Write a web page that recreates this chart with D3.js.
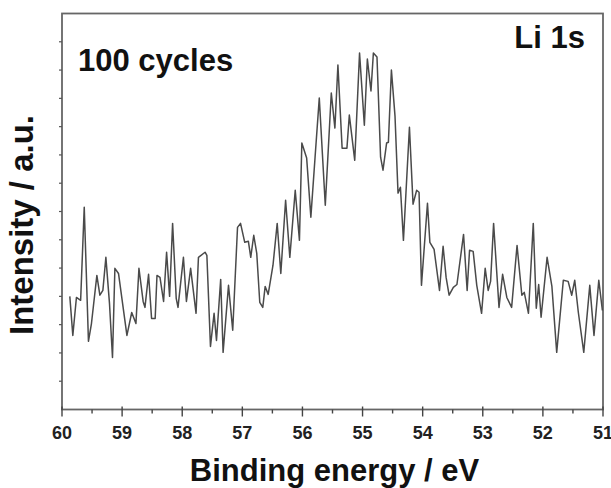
<!DOCTYPE html>
<html>
<head>
<meta charset="utf-8">
<script src="https://cdn.jsdelivr.net/npm/d3@7"></script>
<style>
    body { margin: 0; background: #fff; }
    svg { display: block; font-family: Arial, "Liberation Sans", sans-serif; }
</style>
</head>
<body>
<svg width="611" height="488"></svg>
<script>
// Li 1s spectrum, 100 cycles (binding energy in eV, intensity in a.u.)
const energy = [
    59.87, 59.82, 59.76, 59.69, 59.63, 59.56, 59.51, 59.42, 59.37, 59.32,
    59.27, 59.21, 59.16, 59.12, 59.06, 58.92, 58.84, 58.77, 58.72, 58.65,
    58.62, 58.56, 58.51, 58.45, 58.42, 58.37, 58.31, 58.26, 58.21, 58.16,
    58.10, 58.07, 57.98, 57.93, 57.86, 57.77, 57.73, 57.62, 57.59, 57.53,
    57.47, 57.43, 57.36, 57.32, 57.23, 57.16, 57.08, 57.03, 56.96, 56.90,
    56.86, 56.81, 56.76, 56.71, 56.66, 56.62, 56.57, 56.49, 56.42, 56.36,
    56.28, 56.21, 56.12, 56.05, 56.01, 55.93, 55.86, 55.79, 55.72, 55.62,
    55.52, 55.46, 55.41, 55.34, 55.26, 55.22, 55.13, 55.05, 54.97, 54.92,
    54.86, 54.82, 54.76, 54.70, 54.66, 54.60, 54.57, 54.52, 54.46, 54.41,
    54.37, 54.32, 54.22, 54.16, 54.10, 54.06, 54.02, 53.92, 53.88, 53.81,
    53.72, 53.66, 53.61, 53.56, 53.49, 53.43, 53.32, 53.26, 53.22, 53.16,
    53.10, 53.02, 52.96, 52.91, 52.87, 52.82, 52.73, 52.67, 52.60, 52.52,
    52.43, 52.35, 52.31, 52.24, 52.16, 52.11, 52.07, 52.03, 51.93, 51.85,
    51.77, 51.66, 51.58, 51.52, 51.47, 51.41, 51.32, 51.22, 51.15, 51.07,
    51.01
];
const intensity = [
    400, 262, 396, 386, 715, 241, 304, 474, 404, 421,
    538, 375, 184, 499, 481, 262, 343, 304, 499, 382,
    361, 478, 322, 322, 474, 467, 382, 556, 400, 658,
    393, 361, 538, 382, 499, 340, 538, 556, 545, 223,
    340, 244, 460, 202, 439, 280, 644, 658, 591, 595,
    538, 616, 552, 379, 361, 435, 407, 510, 658, 481,
    740, 538, 775, 598, 942, 889, 680, 892, 1101, 722,
    1119, 995, 1218, 924, 924, 1041, 881, 1260, 1005, 1239,
    1126, 1260, 1246, 892, 846, 942, 945, 1200, 1037, 765,
    786, 598, 998, 726, 775, 768, 439, 729, 591, 566,
    421, 577, 467, 404, 432, 442, 619, 421, 563, 559,
    439, 340, 499, 421, 453, 658, 361, 478, 396, 361,
    580, 404, 414, 340, 658, 358, 442, 326, 538, 435,
    202, 457, 453, 404, 457, 343, 202, 439, 262, 457,
    350
];
const xTicks = [60, 59, 58, 57, 56, 55, 54, 53, 52, 51];

const data = energy.map((e, i) => ({ e, v: intensity[i] }));

const plotL = 62, plotR = 603, plotT = 13.5, plotB = 409.5;

const svg = d3.select('svg');

const x = d3.scaleLinear().domain([60, 51]).range([plotL, plotR]);
const y = d3.scaleLinear().domain([0, 1400]).range([plotB, plotT]);

// frame
svg.append('rect')
    .attr('x', plotL).attr('y', plotT)
    .attr('width', plotR - plotL).attr('height', plotB - plotT)
    .attr('fill', 'none')
    .attr('stroke', '#666')
    .attr('stroke-width', 1.8);

// bottom axis: major ticks crossing the line, minor outward
const minor = d3.range(60, 50.9, -0.5).filter(d => !xTicks.includes(d));
svg.append('g').selectAll('line')
    .data(minor).enter().append('line')
    .attr('x1', d => x(d)).attr('x2', d => x(d))
    .attr('y1', plotB).attr('y2', plotB + 4)
    .attr('stroke', '#444').attr('stroke-width', 1.4);

svg.append('g').selectAll('line')
    .data(xTicks).enter().append('line')
    .attr('x1', d => x(d)).attr('x2', d => x(d))
    .attr('y1', plotB - 3).attr('y2', plotB + 7)
    .attr('stroke', '#444').attr('stroke-width', 1.4);

svg.append('g').selectAll('text')
    .data(xTicks).enter().append('text')
    .attr('x', d => x(d))
    .attr('y', 439)
    .attr('text-anchor', 'middle')
    .attr('font-size', 18)
    .attr('font-weight', 'bold')
    .attr('fill', '#222')
    .text(d => d);

// left axis: small unlabeled ticks
svg.append('g').selectAll('line')
    .data(y.ticks(14).filter(d => d > 0 && d < 1400)).enter().append('line')
    .attr('x1', plotL - 3).attr('x2', plotL)
    .attr('y1', d => y(d)).attr('y2', d => y(d))
    .attr('stroke', '#555').attr('stroke-width', 1.2);

// spectrum
const line = d3.line()
    .x(d => x(d.e))
    .y(d => y(d.v));

svg.append('path')
    .datum(data)
    .attr('d', line)
    .attr('fill', 'none')
    .attr('stroke', '#4a4a4a')
    .attr('stroke-width', 1.5)
    .attr('stroke-linejoin', 'round');

// labels
svg.append('text')
    .attr('x', 78).attr('y', 71)
    .attr('font-size', 31).attr('font-weight', 'bold')
    .attr('fill', '#111')
    .text('100 cycles');

svg.append('text')
    .attr('x', 585).attr('y', 48)
    .attr('text-anchor', 'end')
    .attr('font-size', 31).attr('font-weight', 'bold')
    .attr('fill', '#111')
    .text('Li 1s');

svg.append('text')
    .attr('x', (plotL + plotR) / 2 + 2).attr('y', 481)
    .attr('text-anchor', 'middle')
    .attr('font-size', 31).attr('font-weight', 'bold')
    .attr('fill', '#111')
    .text('Binding energy / eV');

svg.append('text')
    .attr('transform', 'translate(33, 225) rotate(-90)')
    .attr('text-anchor', 'middle')
    .attr('font-size', 33).attr('font-weight', 'bold')
    .attr('fill', '#111')
    .text('Intensity / a.u.');
</script>
</body>
</html>
